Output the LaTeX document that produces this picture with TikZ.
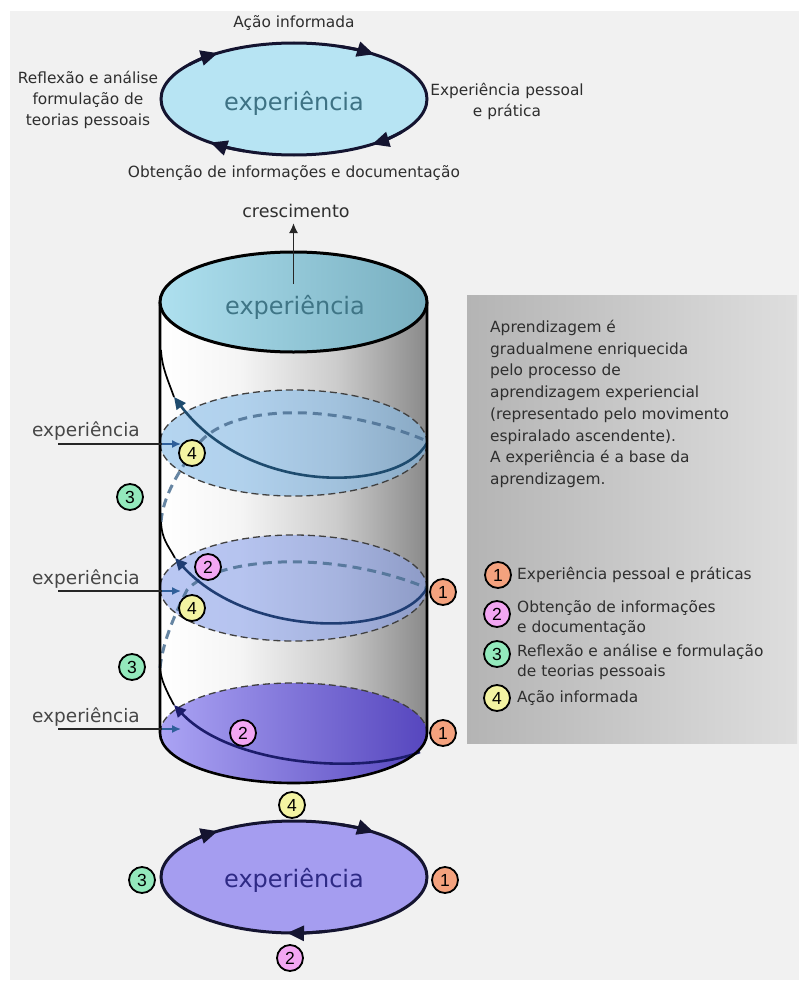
\documentclass[tikz,border=0pt]{standalone}
\usepackage{fontspec}
\setmainfont{DejaVu Sans}
\newfontfamily\digitfont{Liberation Sans}
\usetikzlibrary{arrows.meta,shapes.geometric,calc}

\definecolor{bgc}{HTML}{F1F1F1}
\definecolor{txt}{HTML}{2E2E2E}
\definecolor{lefttxt}{HTML}{474747}
\definecolor{topfill}{HTML}{B7E4F3}
\definecolor{expteal}{HTML}{3E7284}
\definecolor{captealtxt}{HTML}{3F7586}
\definecolor{capl}{HTML}{AEE0EF}
\definecolor{capr}{HTML}{78AFC0}
\definecolor{botfill}{HTML}{A59DF0}
\definecolor{navytext}{HTML}{2E2A85}
\definecolor{purl}{HTML}{ABA4F4}
\definecolor{purr}{HTML}{5646BE}
\definecolor{bone}{HTML}{F4A27E}
\definecolor{btwo}{HTML}{F2A6F2}
\definecolor{bthree}{HTML}{93E9BC}
\definecolor{bfour}{HTML}{F3F3A2}
\definecolor{lvlone}{HTML}{88BCE8}
\definecolor{lvltwo}{HTML}{90A6EC}
\definecolor{backdash}{HTML}{4C7093}
\definecolor{frontone}{HTML}{1E4B6E}
\definecolor{fronttwo}{HTML}{1F3D73}
\definecolor{frontthree}{HTML}{1C1C6B}
\definecolor{arrblue}{HTML}{2F5F9A}
\definecolor{boxl}{HTML}{B4B4B4}
\definecolor{boxr}{HTML}{DEDEDE}
\definecolor{cycout}{HTML}{141430}

\pgfdeclarehorizontalshading{cylshade}{100bp}{color(0bp)=(white); color(25bp)=(white); color(40bp)=(white!96!black); color(58bp)=(black!20); color(75bp)=(black!46); color(100bp)=(black!46)}
\pgfdeclarehorizontalshading{capshade}{100bp}{color(0bp)=(capl); color(25bp)=(capl); color(75bp)=(capr); color(100bp)=(capr)}
\pgfdeclarehorizontalshading{purshade}{100bp}{color(0bp)=(purl); color(25bp)=(purl); color(75bp)=(purr); color(100bp)=(purr)}

\tikzset{
  lbl/.style={font=\fontsize{15.4}{21}\selectfont, text=txt, inner sep=0pt, align=center},
  leftlbl/.style={font=\fontsize{18.5}{21}\selectfont, text=lefttxt, inner sep=0pt},
  bigtxt/.style={font=\fontsize{24}{28}\selectfont, inner sep=0pt},
  badge/.style={circle, draw=black, line width=1.8pt, minimum size=26pt, inner sep=0pt, font=\fontsize{17.5}{17.5}\selectfont\digitfont},
  cycell/.style={ellipse, draw=cycout, line width=3pt, minimum width=266pt, minimum height=112pt, inner sep=0pt},
  cycarrow/.style={draw=cycout, line width=3pt, -{Triangle[length=17pt,width=15pt]}},
  ellout/.style={draw=black!75, line width=1.3pt, dash pattern=on 7pt off 4pt},
  backsp/.style={draw=backdash, line width=3pt, dash pattern=on 9pt off 6pt, opacity=.85},
  frontsp/.style={line width=2.6pt, -{Triangle[length=12pt,width=11pt]}},
  tailsp/.style={draw=black, line width=1.7pt},
  cylout/.style={draw=black, line width=2.6pt},
  exparrow/.style={draw=arrblue, line width=1.5pt, -{Latex[length=9pt,width=8pt]}},
  expline/.style={draw=black!85, line width=1.5pt},
}

\begin{document}
\begin{tikzpicture}[x=1pt,y=-1pt]
\useasboundingbox (0,0) rectangle (799,982);
\fill[white] (0,0) rectangle (799,982);
\fill[bgc] (10,11) rectangle (799,980);

% ---------- grey text box ----------
\shade[left color=boxl, right color=boxr] (467,295) rectangle (797,743);
\node[anchor=north west, align=left, inner sep=0pt, text=txt,
      font=\fontsize{15.4}{21.7}\selectfont] (boxtext) at (490,320)
  {Aprendizagem é\\gradualmene enriquecida\\pelo processo de\\aprendizagem experiencial\\(representado pelo movimento\\espiralado ascendente).\\A experiência é a base da\\aprendizagem.};

% legend
\node[badge, fill=bone]   (lg1) at (498,575) {1};
\node[badge, fill=btwo]   (lg2) at (497,614) {2};
\node[badge, fill=bthree] (lg3) at (497,654) {3};
\node[badge, fill=bfour]  (lg4) at (497,698) {4};
\node[lbl, anchor=west, align=left] (lt1) at (517,575) {Experiência pessoal e práticas};
\node[lbl, anchor=west, align=left, font=\fontsize{15.4}{20.5}\selectfont] (lt2) at (517,618) {Obtenção de informações\\e documentação};
\node[lbl, anchor=west, align=left, font=\fontsize{15.4}{20.5}\selectfont] (lt3) at (517,662) {Reflexão e análise e formulação\\de teorias pessoais};
\node[lbl, anchor=west, align=left] (lt4) at (517,698) {Ação informada};

% ---------- top cycle ----------
\node[cycell, fill=topfill] (topcyc) at (294,99) {};
\node[bigtxt, text=expteal] (toptxt) at (294,103) {experiência};
\draw[cycarrow] ($(topcyc.center)+(142:133pt and 56pt)$) arc[start angle=142, end angle=125, x radius=133pt, y radius=56pt];
\draw[cycarrow] ($(topcyc.center)+(70:133pt and 56pt)$) arc[start angle=70, end angle=53, x radius=133pt, y radius=56pt];
\draw[cycarrow] ($(topcyc.center)+(-36:133pt and 56pt)$) arc[start angle=-36, end angle=-54, x radius=133pt, y radius=56pt];
\draw[cycarrow] ($(topcyc.center)+(-112:133pt and 56pt)$) arc[start angle=-112, end angle=-129, x radius=133pt, y radius=56pt];
\node[lbl] (acao) at (294,23) {Ação informada};
\node[lbl] (refl) at (88,100) {Reflexão e análise\\formulação de\\teorias pessoais};
\node[lbl] (expp) at (507,101) {Experiência pessoal\\e prática};
\node[lbl] (obt) at (294,173) {Obtenção de informações e documentação};

% ---------- cylinder ----------
\shade[shading=cylshade] (160,302) -- (160,733) arc[start angle=180, end angle=360, x radius=133.5pt, y radius=50pt] -- (427,302) -- cycle;
\shade[shading=purshade] (293.5,733) ellipse[x radius=133.5pt, y radius=50pt];
\draw[ellout] (160,733) arc[start angle=180, end angle=0, x radius=133.5pt, y radius=50pt];

\fill[lvlone, opacity=.62] (293.5,443) ellipse[x radius=133.5pt, y radius=53pt];
\draw[ellout] (293.5,443) ellipse[x radius=133.5pt, y radius=53pt];
\fill[lvltwo, opacity=.62] (293.5,588) ellipse[x radius=133.5pt, y radius=53pt];
\draw[ellout] (293.5,588) ellipse[x radius=133.5pt, y radius=53pt];

% back (hidden) part of the spiral
\draw[backsp] (161,522) .. controls (163,495) and (180,470) .. (196,447) .. controls (225,405) and (330,400) .. (427,441);
\draw[backsp] (160,668) .. controls (163,640) and (176,612) .. (187,590) .. controls (215,558) and (330,548) .. (427,588);

% front part of the spiral
\draw[tailsp] (174,397) .. controls (168,380) and (162,368) .. (161,350);
\draw[frontsp, draw=frontone] (427,443) .. controls (400,492) and (250,497) .. (174,397);
\draw[tailsp] (175,558) .. controls (168,545) and (162,540) .. (161,522);
\draw[frontsp, draw=fronttwo] (427,588) .. controls (400,637) and (250,640) .. (175,558);
\draw[tailsp] (174,705) .. controls (166,690) and (161,680) .. (160,668);
\draw[frontsp, draw=frontthree] (420,752) .. controls (360,775) and (230,765) .. (174,705);

% cylinder outline and cap
\draw[cylout] (160,302) -- (160,733) arc[start angle=180, end angle=360, x radius=133.5pt, y radius=50pt] -- (427,302);
\shade[shading=capshade] (293.5,302) ellipse[x radius=133.5pt, y radius=50pt];
\draw[cylout, line width=3pt] (293.5,302) ellipse[x radius=133.5pt, y radius=50pt];
\node[bigtxt, text=captealtxt] (captxt) at (295,307) {experiência};
\coordinate (capc) at (293.5,284);
\node[lbl, font=\fontsize{17.5}{20}\selectfont] (cresc) at (296,211) {crescimento};
\coordinate (cresctip) at (293.5,223);
\draw[line width=1.7pt, draw=black!85, -{Latex[length=10pt,width=9pt]}] (capc) -- (cresctip);

% experience inputs
\node[leftlbl] (exl1) at (86,431) {experiência};
\node[leftlbl] (exl2) at (86,579) {experiência};
\node[leftlbl] (exl3) at (86,717) {experiência};
\coordinate (e1a) at (58,444); \coordinate (e1b) at (162,444); \coordinate (e1c) at (181,444);
\coordinate (e2a) at (58,591); \coordinate (e2b) at (162,591); \coordinate (e2c) at (181,591);
\coordinate (e3a) at (58,729); \coordinate (e3b) at (162,729); \coordinate (e3c) at (181,729);
\draw[expline] (e1a) -- (e1b); \draw[exparrow] (e1b) -- (e1c);
\draw[expline] (e2a) -- (e2b); \draw[exparrow] (e2b) -- (e2c);
\draw[expline] (e3a) -- (e3b); \draw[exparrow] (e3b) -- (e3c);

% badges on the cylinder
\node[badge, fill=bfour]  (c4a) at (192,453) {4};
\node[badge, fill=bthree] (c3a) at (130,497) {3};
\node[badge, fill=btwo]   (c2b) at (208,567) {2};
\node[badge, fill=bfour]  (c4b) at (192,608) {4};
\node[badge, fill=bone]   (c1b) at (443,592) {1};
\node[badge, fill=bthree] (c3b) at (132,667) {3};
\node[badge, fill=btwo]   (c2c) at (243,733) {2};
\node[badge, fill=bone]   (c1c) at (443,733) {1};

% ---------- bottom cycle ----------
\node[cycell, fill=botfill] (botcyc) at (294,877) {};
\node[bigtxt, text=navytext] (bottxt) at (294,880) {experiência};
\draw[cycarrow] ($(botcyc.center)+(142:133pt and 56pt)$) arc[start angle=142, end angle=125, x radius=133pt, y radius=56pt];
\draw[cycarrow] ($(botcyc.center)+(70:133pt and 56pt)$) arc[start angle=70, end angle=53, x radius=133pt, y radius=56pt];
\draw[cycarrow] ($(botcyc.center)+(-76:133pt and 56pt)$) arc[start angle=-76, end angle=-93, x radius=133pt, y radius=56pt];
\node[badge, fill=bfour]  (d4) at (292,805) {4};
\node[badge, fill=bthree] (d3) at (142,880) {3};
\node[badge, fill=bone]   (d1) at (445,880) {1};
\node[badge, fill=btwo]   (d2) at (290,958) {2};
\end{tikzpicture}
\end{document}
